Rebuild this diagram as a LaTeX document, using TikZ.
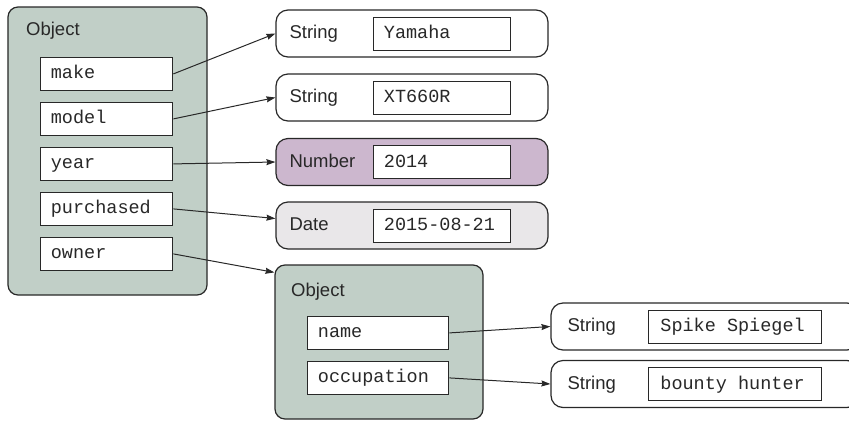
\documentclass[tikz,border=0pt]{standalone}
\usepackage{fontspec}
\setmainfont{Liberation Sans}
\setmonofont{Liberation Mono}
\usetikzlibrary{positioning,arrows.meta}

\definecolor{objgreen}{RGB}{193,207,199}
\definecolor{numpurple}{RGB}{204,183,206}
\definecolor{dategray}{RGB}{233,231,233}
\definecolor{edge}{RGB}{40,40,40}
\newcommand\figsize{\fontsize{18.5bp}{22bp}\selectfont}
\newcommand\monosp{\hspace{0.6em}}

\tikzset{
  objbox/.style={draw=edge, line width=1.2bp, fill=objgreen, rounded corners=10bp, inner sep=0},
  typebox/.style={draw=edge, line width=1.2bp, fill=white, rounded corners=12bp, minimum height=47bp, inner sep=0},
  field/.style={draw=edge, line width=1bp, fill=white, font=\figsize\ttfamily, text=edge,
    inner xsep=10bp, inner ysep=0, minimum height=33bp, text height=13bp, text depth=3bp, align=left},
  lbl/.style={inner sep=0, text=edge, text height=13bp, text depth=3bp},
  link/.style={draw=edge, line width=1bp, -{Stealth[length=9bp,width=6bp,inset=1bp]}}
}

\begin{document}
\begin{tikzpicture}[x=1bp, y=-1bp, every node/.style={font=\figsize}]
    \clip (0,0) rectangle (849,421);
    % Object on the left and its properties
    \node[objbox, minimum width=199bp, minimum height=288bp] (bike) at (107.5,151) {};
    \node[lbl, anchor=base west] (bikelbl) at (26,35) {Object};
    \node[field, text width=112bp, below right=50.5bp and 33bp of bike.north west] (make) {make};
    \node[field, text width=112bp, below=11bp of make] (model) {model};
    \node[field, text width=112bp, below=11bp of model] (year) {year};
    \node[field, text width=112bp, below=11bp of year] (purchased) {purchased};
    \node[field, text width=112bp, below=11bp of purchased] (owner) {owner};
    % Values of the properties
    \node[typebox, minimum width=272bp] (yamaha) at (412,33.5) {};
    \node[lbl, right=14bp of yamaha.west] (yamahalbl) {String};
    \node[field, text width=117bp, right=98bp of yamaha.west] (yamahaval) {Yamaha};
    \node[typebox, minimum width=272bp] (xt) at (412,97.5) {};
    \node[lbl, right=14bp of xt.west] (xtlbl) {String};
    \node[field, text width=117bp, right=98bp of xt.west] (xtval) {XT660R};
    \node[typebox, minimum width=272bp, fill=numpurple] (num) at (412,162) {};
    \node[lbl, right=14bp of num.west] (numlbl) {Number};
    \node[field, text width=117bp, right=98bp of num.west] (numval) {2014};
    \node[typebox, minimum width=272bp, fill=dategray] (date) at (412,225.5) {};
    \node[lbl, right=14bp of date.west] (datelbl) {Date};
    \node[field, text width=117bp, right=98bp of date.west] (dateval) {2015-08-21};
    % Owner object
    \node[objbox, minimum width=208bp, minimum height=154bp] (pilot) at (379,342) {};
    \node[lbl, anchor=base west] (pilotlbl) at (291,296) {Object};
    \node[field, text width=121bp, below right=51.5bp and 33bp of pilot.north west] (name) {name};
    \node[field, text width=121bp, below=11bp of name] (occupation) {occupation};
    \node[typebox, minimum width=308bp] (spike) at (705,326.5) {};
    \node[lbl, right=17bp of spike.west] (spikelbl) {String};
    \node[field, text width=150bp, inner xsep=11.5bp, right=98bp of spike.west] (spikeval) {Spike\monosp Spiegel};
    \node[typebox, minimum width=308bp] (bounty) at (705,384) {};
    \node[lbl, right=17bp of bounty.west] (bountylbl) {String};
    \node[field, text width=150bp, inner xsep=11.5bp, right=98bp of bounty.west] (bountyval) {bounty\monosp hunter};
    % References
    \draw[link] (make.east) -- (yamaha.west);
    \draw[link] (model.east) -- (xt.west);
    \draw[link] (year.east) -- (num.west);
    \draw[link] (purchased.east) -- ([yshift=7bp]date.west);
    \draw[link] (owner.east) -- ([yshift=-8bp]pilot.north west);
    \draw[link] (name.east) -- (spike.west);
    \draw[link] (occupation.east) -- (bounty.west);
\end{tikzpicture}
\end{document}
